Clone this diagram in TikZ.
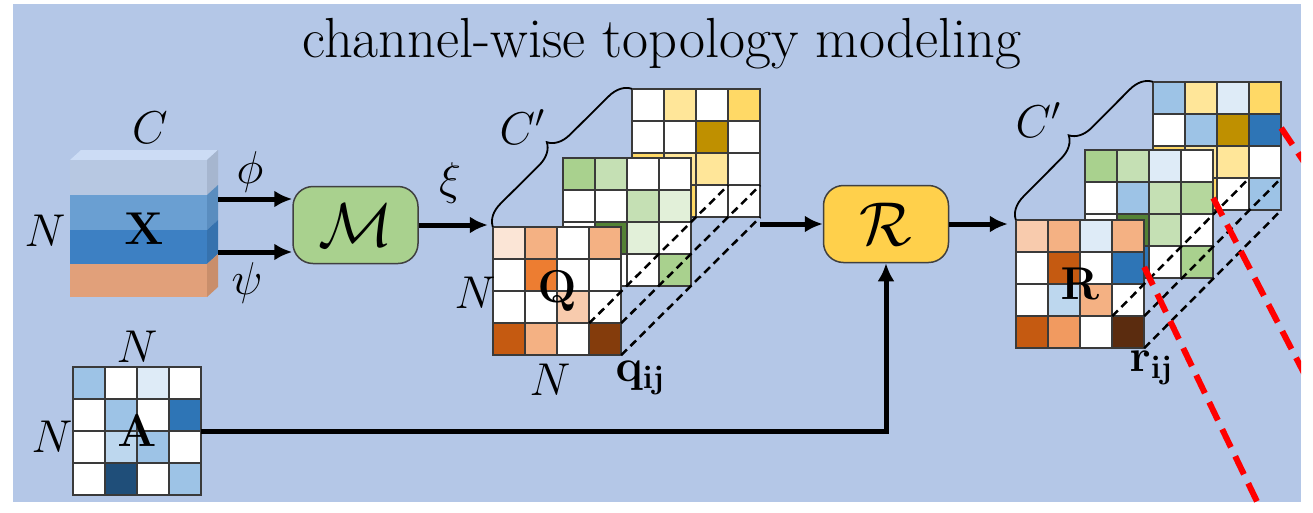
\RequirePackage{fix-cm}
\documentclass[tikz,border=0pt]{standalone}
\usetikzlibrary{arrows.meta,decorations.pathreplacing}
\definecolor{bgblue}{HTML}{B4C7E7}
\definecolor{gridgray}{HTML}{3A3A3A}
\definecolor{boxgray}{HTML}{404040}
\definecolor{ylt}{HTML}{FFE699}
\definecolor{ylw}{HTML}{FFD966}
\definecolor{ydk}{HTML}{BF9000}
\definecolor{gvl}{HTML}{E2F0D9}
\definecolor{glt}{HTML}{C5E0B4}
\definecolor{gm2}{HTML}{B5D79D}
\definecolor{gmd}{HTML}{A9D18E}
\definecolor{gdk}{HTML}{548235}
\definecolor{ovl}{HTML}{FBE5D6}
\definecolor{osf}{HTML}{F8CBAD}
\definecolor{olt}{HTML}{F4B183}
\definecolor{orb}{HTML}{F19A60}
\definecolor{omd}{HTML}{ED7D31}
\definecolor{odk}{HTML}{C55A11}
\definecolor{obr}{HTML}{843C0C}
\definecolor{oxx}{HTML}{5B2C0F}
\definecolor{bvl}{HTML}{DEEBF7}
\definecolor{blt}{HTML}{BDD7EE}
\definecolor{bmd}{HTML}{9DC3E6}
\definecolor{bdk}{HTML}{2E75B6}
\definecolor{bnv}{HTML}{1F4E79}
\definecolor{mgreen}{HTML}{A9D18E}
\definecolor{ryellow}{HTML}{FFD04B}
\definecolor{xtop}{HTML}{CCDCF5}
\definecolor{xa}{HTML}{B7C8E2}
\definecolor{xas}{HTML}{A6B6CF}
\definecolor{xb}{HTML}{6A9FD2}
\definecolor{xbs}{HTML}{5A8DBF}
\definecolor{xc}{HTML}{3D80C3}
\definecolor{xcs}{HTML}{3672AE}
\definecolor{xd}{HTML}{E1A07A}
\definecolor{xds}{HTML}{C98E6B}
\newcommand\cellmat[5]{%
  \foreach \cc [count=\k from 0] in {#5} {%
    \pgfmathtruncatemacro\ri{div(\k,4)}%
    \pgfmathtruncatemacro\ci{mod(\k,4)}%
    \draw[gridcell,fill=\cc] ({#2+32*\ci},{#3+32*\ri}) rectangle ++(32,32);
  }%
  \node[matnode] (#1) at ({#2+64},{#3+64}) {#4};%
}
\begin{document}
\begin{tikzpicture}[x=1pt,y=-1pt,font=\fontsize{46}{52}\selectfont,
    gridcell/.style={draw=gridgray,line width=1.5pt},
    matnode/.style={minimum size=128pt,inner sep=0pt},
    opbox/.style={draw=boxgray,line width=1.5pt,rounded corners=20pt,minimum width=125pt,minimum height=77pt,font=\fontsize{62}{66}\selectfont},
    arr/.style={line width=5pt,-{Latex[length=18pt,width=17pt]}},
    cellink/.style={line width=2.5pt,dash pattern=on 8pt off 5pt},
    zoomln/.style={draw=red,line width=6pt,dash pattern=on 20pt off 10pt},
    chbrace/.style={decorate,decoration={brace,amplitude=22pt},line width=1.8pt}]
  \useasboundingbox (0,0) rectangle (1313,512);
  \fill[white] (0,0) rectangle (1313,512);
  \fill[bgblue] (13,4) rectangle (1301,502);
  \node[font=\fontsize{56.5}{62}\selectfont] (title) at (662,44) {channel-wise topology modeling};

  \fill[xtop] (70,160) -- (81,150) -- (218,150) -- (207,160) -- cycle;
  \foreach \ya/\yb/\cf/\cs in {160/195/xa/xas,195/230/xb/xbs,230/264/xc/xcs,264/297/xd/xds} {
    \fill[\cf] (70,\ya) rectangle (207,\yb);
    \fill[\cs] (207,\ya) -- (218,\ya-10) -- (218,\yb-10) -- (207,\yb) -- cycle;
  }
  \node[minimum width=148pt,minimum height=137pt,inner sep=0pt] (X) at (144,228.5) {$\mathbf{X}$};
  \node (cx) at (150,128) {$C$};
  \node (nx) at (45,231) {$N$};
  \node (phi) at (250,172) {$\phi$};
  \node (psi) at (247,283) {$\psi$};

  \node[opbox,fill=mgreen] (M) at (355.5,225) {$\mathcal{M}$};
  \node[opbox,fill=ryellow] (R) at (886,224) {$\mathcal{R}$};
  \node (xi) at (450,183) {$\xi$};

  \cellmat{A}{73}{367}{$\mathbf{A}$}{bmd,white,bvl,white,white,bmd,white,bdk,white,blt,bmd,white,white,bnv,white,bmd}
  \node (na) at (137,347) {$N$};
  \node (nal) at (52,437) {$N$};

  \cellmat{Qc}{632}{89}{}{white,ylt,white,ylw,white,white,ydk,white,ylw,ylt,ylt,white,white,ylw,white,white}
  \cellmat{Qb}{563}{158}{}{gmd,glt,white,white,white,white,glt,gvl,white,gdk,gvl,white,white,white,white,gmd}
  \cellmat{Qa}{493}{227}{$\mathbf{Q}$}{ovl,olt,white,olt,white,omd,white,white,white,white,osf,white,odk,olt,white,obr}
  \draw[chbrace] (Qa.north west) -- (Qc.north west);
  \node (cq) at (522,127) {$C'$};
  \node (nq) at (475,293) {$N$};
  \node (nqb) at (550,380) {$N$};
  \node (qij) at (640,378) {$\mathbf{q}_{\mathbf{ij}}$};

  \cellmat{Rc}{1153}{82}{}{bmd,ylt,bvl,ylw,white,bmd,ydk,bdk,ylw,ylt,ylt,white,white,ylw,white,bmd}
  \cellmat{Rb}{1085}{150}{}{gmd,glt,bvl,white,white,bmd,glt,gm2,white,gdk,glt,white,white,bdk,white,gmd}
  \cellmat{Ra}{1016}{220}{$\mathbf{R}$}{osf,olt,bvl,olt,white,odk,white,bdk,white,blt,olt,white,odk,orb,white,oxx}
  \draw[chbrace] (Ra.north west) -- (Rc.north west);
  \node (cr) at (1038,120) {$C'$};
  \node (rij) at (1151,368) {$\mathbf{r}_{\mathbf{ij}}$};

  \begin{scope}[arr]
    \draw ([yshift=26pt]M.west -| X.east) -- ([yshift=26pt]M.west);
    \draw ([yshift=-27pt]M.west -| X.east) -- ([yshift=-27pt]M.west);
    \draw (M.east) -- ([xshift=-5pt]M.east -| Qa.west);
    \draw (R.west -| Qc.east) -- (R.west);
    \draw (R.east) -- ([xshift=-8pt]R.east -| Ra.west);
    \draw (A.east) -| (R.south);
  \end{scope}

  \begin{scope}[cellink]
    \draw ([shift={(-32,-32)}]Qa.south east) -- ([shift={(-32,-32)}]Qc.south east);
    \draw ([shift={(0,-32)}]Qa.south east) -- ([shift={(0,-32)}]Qc.south east);
    \draw (Qa.south east) -- (Qc.south east);
    \draw ([shift={(-32,-32)}]Ra.south east) -- ([shift={(-32,-32)}]Rc.south east);
    \draw ([shift={(0,-32)}]Ra.south east) -- ([shift={(0,-32)}]Rc.south east);
    \draw (Ra.south east) -- (Rc.south east);
  \end{scope}

  \coordinate (za) at (1262,512);
  \coordinate (zb) at (1347,456);
  \coordinate (zc) at (1335,208);
  \begin{scope}
    \clip (13,4) rectangle (1301,502);
    \draw[zoomln] ([yshift=17pt]Ra.east) -- (za);
    \draw[zoomln] ([yshift=16pt]Rb.east) -- (zb);
    \draw[zoomln] ([yshift=18pt]Rc.east) -- (zc);
  \end{scope}
\end{tikzpicture}
\end{document}
